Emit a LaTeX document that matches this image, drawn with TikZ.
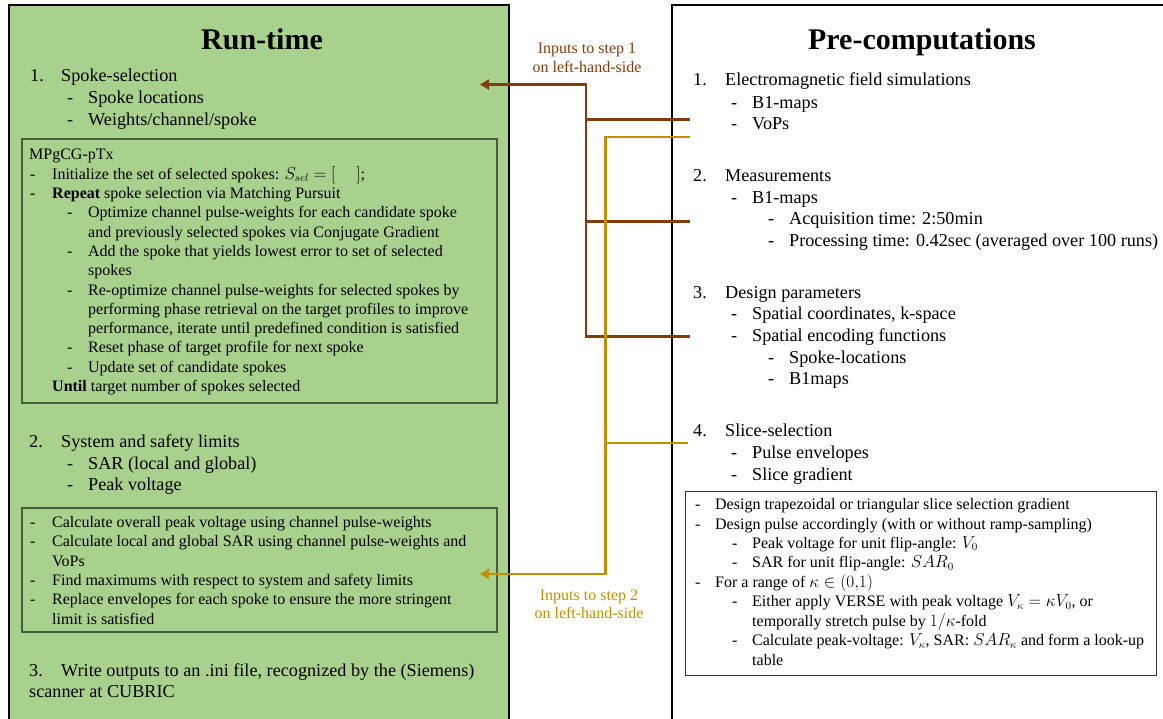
\documentclass[tikz,border=0pt]{standalone}
\usepackage{fontspec}
\setmainfont{Liberation Serif}
\usetikzlibrary{arrows.meta}
\definecolor{grn}{HTML}{A9D18E}
\definecolor{brn}{HTML}{843C0C}
\definecolor{gld}{HTML}{BF9000}
\definecolor{ibox}{HTML}{44603A}
\newcommand\BIGF{\fontsize{18.2}{22}\selectfont}
\newcommand\SMLF{\fontsize{16}{19.3}\selectfont}
\newcommand\Lbl[2]{\makebox[#1pt][l]{#2}}
\tikzset{
  big/.style={anchor=base west, inner sep=0pt, font=\BIGF},
  sml/.style={anchor=base west, inner sep=0pt, font=\SMLF},
  ttl/.style={anchor=base, inner sep=0pt, font=\fontsize{30}{36}\selectfont\bfseries},
  lab/.style={anchor=base, inner sep=0pt, font=\fontsize{16}{19}\selectfont},
  panel/.style={draw=black, line width=2pt},
  ibx/.style={draw=ibox, line width=1.2pt},
  conn/.style={line width=2.3pt},
  tip/.style={-{Triangle[length=9pt,width=10pt]}},
}
\begin{document}
\begin{tikzpicture}[x=1pt,y=-1pt]
\useasboundingbox (0,0) rectangle (1163,719);
% panels
\path[panel, fill=grn] (9,5) rectangle (509,730);
\path[panel, fill=white] (672,5) rectangle (1175,730);
\path[ibx] (22,139) rectangle (497,403);
\path[ibx] (22,508) rectangle (497,632);
\path[draw=black!80, line width=1pt] (685,491.5) rectangle (1156,675.5);

% connectors
\coordinate (bE1) at (690,119.5);
\coordinate (bE2) at (690,221.5);
\coordinate (bE3) at (690,336.5);
\coordinate (bJ) at (586,336.5);
\coordinate (bT) at (480,84.5);
\coordinate (gE1) at (690,137.3);
\coordinate (gE4) at (688,442.7);
\coordinate (gJ) at (605.5,574);
\coordinate (gT) at (480,574);
\draw[conn,brn,tip] (bE3) -- (bJ) |- (bT);
\draw[conn,brn] (bE1) -- (bE1 -| bJ);
\draw[conn,brn] (bE2) -- (bE2 -| bJ);
\draw[conn,gld,tip] (gE1) -| (gJ) -- (gT);
\draw[conn,gld] (gE4) -- (gE4 -| gJ);

\node[lab, text=brn] (l1a) at (587,54) {Inputs to step 1};
\node[lab, text=brn] (l1b) at (587,72.7) {on left-hand-side};
\node[lab, text=gld] (l2a) at (589,600) {Inputs to step 2};
\node[lab, text=gld] (l2b) at (589,618.5) {on left-hand-side};

% left panel
\node[ttl] (rt) at (262,50) {Run-time};
\node[big] (s1) at (30,82) {\Lbl{31}{1.}Spoke-selection};
\node[big] (s1a) at (67,104) {\Lbl{21}{-}Spoke locations};
\node[big] (s1b) at (67,126) {\Lbl{21}{-}Weights/channel/spoke};

\node[sml] (m0) at (29,160) {MPgCG-pTx};
\node[sml] (m1) at (30,179.3) {\Lbl{22}{-}Initialize the set of selected spokes: $S_{sel}=[\quad\;]$;};
\node[sml] (m2) at (30,198.6) {\Lbl{22}{-}\textbf{Repeat} spoke selection via Matching Pursuit};
\node[sml] (m3) at (67,217.9) {\Lbl{21}{-}Optimize channel pulse-weights for each candidate spoke};
\node[sml] (m4) at (88,237.2) {and previously selected spokes via Conjugate Gradient};
\node[sml] (m5) at (67,256.5) {\Lbl{21}{-}Add the spoke that yields lowest error to set of selected};
\node[sml] (m6) at (88,275.8) {spokes};
\node[sml] (m7) at (67,295.1) {\Lbl{21}{-}Re-optimize channel pulse-weights for selected spokes by};
\node[sml] (m8) at (88,314.4) {performing phase retrieval on the target profiles to improve};
\node[sml] (m9) at (88,333.7) {performance, iterate until predefined condition is satisfied};
\node[sml] (m10) at (67,353) {\Lbl{21}{-}Reset phase of target profile for next spoke};
\node[sml] (m11) at (67,372.3) {\Lbl{21}{-}Update set of candidate spokes};
\node[sml] (m12) at (52,391.6) {\textbf{Until} target number of spokes selected};

\node[big] (s2) at (29,447.7) {\Lbl{32}{2.}System and safety limits};
\node[big] (s2a) at (67,469.3) {\Lbl{21}{-}SAR (local and global)};
\node[big] (s2b) at (67,490.7) {\Lbl{21}{-}Peak voltage};

\node[sml] (c1) at (30,527.3) {\Lbl{22}{-}Calculate overall peak voltage using channel pulse-weights};
\node[sml] (c2) at (30,546.7) {\Lbl{22}{-}Calculate local and global SAR using channel pulse-weights and};
\node[sml] (c3) at (52,566) {VoPs};
\node[sml] (c4) at (30,585.3) {\Lbl{22}{-}Find maximums with respect to system and safety limits};
\node[sml] (c5) at (30,604.7) {\Lbl{22}{-}Replace envelopes for each spoke to ensure the more stringent};
\node[sml] (c6) at (52,624) {limit is satisfied};

\node[big] (s3) at (29,676) {\Lbl{32}{3.}Write outputs to an .ini file, recognized by the (Siemens)};
\node[big] (s3b) at (29,697) {scanner at CUBRIC};

% right panel
\node[ttl] (pc) at (922,50) {Pre-computations};
\node[big] (p1) at (693,86) {\Lbl{32}{1.}Electromagnetic field simulations};
\node[big] (p1a) at (731,108.3) {\Lbl{21}{-}B1-maps};
\node[big] (p1b) at (731,130) {\Lbl{21}{-}VoPs};
\node[big] (p2) at (693,181.7) {\Lbl{32}{2.}Measurements};
\node[big] (p2a) at (731,203.3) {\Lbl{21}{-}B1-maps};
\node[big] (p2b) at (768,225) {\Lbl{21}{-}Acquisition time: 2:50min};
\node[big] (p2c) at (768,246.7) {\Lbl{21}{-}Processing time: 0.42sec (averaged over 100 runs)};
\node[big] (p3) at (693,298.3) {\Lbl{32}{3.}Design parameters};
\node[big] (p3a) at (731,320) {\Lbl{21}{-}Spatial coordinates, k-space};
\node[big] (p3b) at (731,341.7) {\Lbl{21}{-}Spatial encoding functions};
\node[big] (p3c) at (768,363.3) {\Lbl{21}{-}Spoke-locations};
\node[big] (p3d) at (768,385) {\Lbl{21}{-}B1maps};
\node[big] (p4) at (693,436.7) {\Lbl{32}{4.}Slice-selection};
\node[big] (p4a) at (731,458.3) {\Lbl{21}{-}Pulse envelopes};
\node[big] (p4b) at (731,480) {\Lbl{21}{-}Slice gradient};

\node[sml] (d1) at (695,509) {\Lbl{20}{-}Design trapezoidal or triangular slice selection gradient};
\node[sml] (d2) at (695,529) {\Lbl{20}{-}Design pulse accordingly (with or without ramp-sampling)};
\node[sml] (d3) at (732,548) {\Lbl{20}{-}Peak voltage for unit flip-angle: $V_0$};
\node[sml] (d4) at (732,567.5) {\Lbl{20}{-}SAR for unit flip-angle: $SAR_0$};
\node[sml] (d5) at (695,587) {\Lbl{20}{-}For a range of $\kappa\in(0{,}1)$};
\node[sml] (d6) at (732,606.5) {\Lbl{20}{-}Either apply VERSE with peak voltage $V_\kappa=\kappa V_0$, or};
\node[sml] (d7) at (752,626) {temporally stretch pulse by $1/\kappa$-fold};
\node[sml] (d8) at (732,645.5) {\Lbl{20}{-}Calculate peak-voltage: $V_\kappa$, SAR: $SAR_\kappa$ and form a look-up};
\node[sml] (d9) at (752,665) {table};
\end{tikzpicture}
\end{document}
